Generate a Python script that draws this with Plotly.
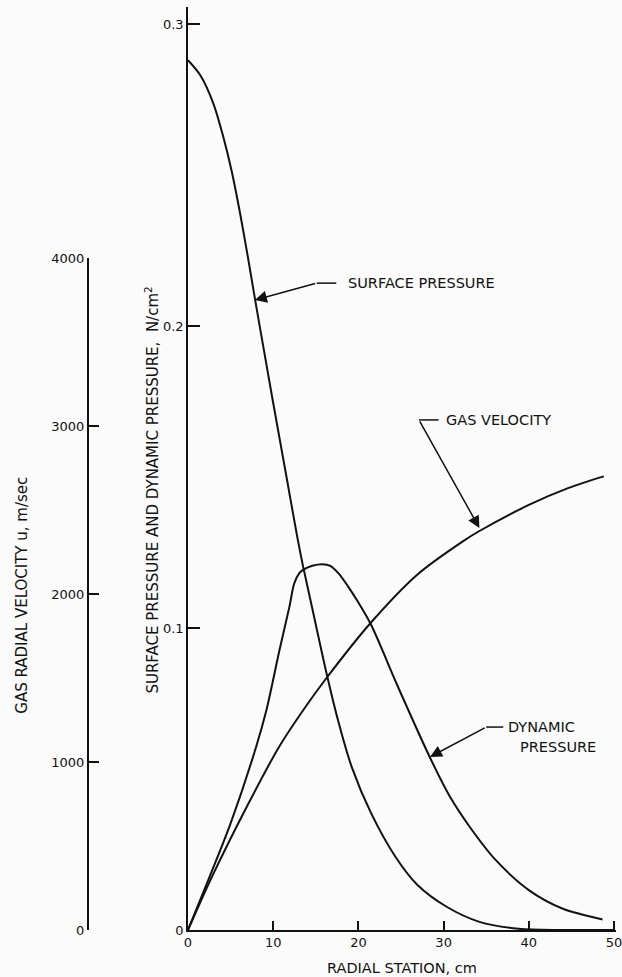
import plotly.graph_objects as go

# ---------------- data ----------------
radial_sp = [0, 1.5, 3.0, 4.2, 5.15, 6.1, 7.0, 7.8, 8.6, 10.0, 11.5, 12.8, 13.5, 14.6,
             16.3, 17.6, 19.2, 21.5, 24.4, 26.9, 30.35, 34.2, 38.8, 44.0, 50.0]
surface_pressure = [0.288, 0.2828, 0.2735, 0.2620, 0.2510, 0.2375, 0.2233, 0.2100, 0.1970,
                    0.1745, 0.1510, 0.1305, 0.1205, 0.1063, 0.0845, 0.0695, 0.0541, 0.0386,
                    0.0240, 0.0150, 0.0077, 0.0027, 0.0004, 0.0, 0.0]

radial_dp = [0, 1.9, 5.0, 8.0, 9.2, 10.74, 11.9, 12.47, 13.05, 13.6, 14.6, 15.75, 16.7,
             17.67, 18.8, 19.98, 21.5, 24.6, 28.45, 30.75, 33.05, 36.1, 40.0, 43.85,
             48.65]
dynamic_pressure = [0, 0.0132, 0.0353, 0.0607, 0.0728, 0.0927, 0.1070, 0.1148, 0.1181,
                    0.1194, 0.1206, 0.1211, 0.1206, 0.1181, 0.1137, 0.1085, 0.1010,
                    0.0808, 0.0568, 0.0441, 0.0342, 0.0232, 0.0132, 0.0072, 0.0035]

radial_gv = [0, 3.0, 6.9, 10.7, 13.8, 16.3, 21.4, 26.9, 32.3, 34.2, 40.0, 44.6, 48.8]
gas_velocity = [0, 337, 734, 1091, 1329, 1503, 1826, 2115, 2315, 2375, 2530, 2630, 2700]

x_ticks = [0, 10, 20, 30, 40, 50]
p_ticks = [0, 0.1, 0.2, 0.3]
p_tick_text = ["0", "0.1", "0.2", "0.3"]
u_ticks = [0, 1000, 2000, 3000, 4000]

FONT = "DejaVu Sans"
INK = "#111111"
BG = "#fbfbfb"

fig = go.Figure()
line_style = dict(color=INK, width=2, shape="spline", smoothing=0.9)
fig.add_trace(go.Scatter(x=radial_sp, y=surface_pressure, mode="lines", line=line_style,
                         xaxis="x", yaxis="y", showlegend=False, hoverinfo="skip"))
fig.add_trace(go.Scatter(x=radial_dp, y=dynamic_pressure, mode="lines", line=line_style,
                         xaxis="x", yaxis="y", showlegend=False, hoverinfo="skip"))
fig.add_trace(go.Scatter(x=radial_gv, y=gas_velocity, mode="lines", line=line_style,
                         xaxis="x", yaxis="y2", showlegend=False, hoverinfo="skip"))

tickfont = dict(family=FONT, size=13, color=INK)
axis_common = dict(showgrid=False, zeroline=False, showline=True, linecolor=INK,
                   linewidth=1.5, ticks="inside", tickcolor=INK, tickwidth=1.5,
                   tickfont=tickfont, fixedrange=True)

fig.update_layout(
    width=622, height=977,
    margin=dict(l=0, r=0, t=7, b=47),
    paper_bgcolor=BG, plot_bgcolor="rgba(0,0,0,0)",
    xaxis=dict(domain=[187/622, 1], range=[0, 50.23], tickvals=x_ticks, ticklen=9,
               anchor="y", ticklabeloverflow="allow", **axis_common),
    yaxis=dict(domain=[0, 1], range=[0, 923/3020], tickvals=p_ticks, ticktext=p_tick_text,
               ticklen=12, anchor="x", **axis_common),
    yaxis2=dict(domain=[0, 672/923], range=[0, 4000], tickvals=u_ticks, ticklen=11,
                anchor="free", position=85/622, **axis_common),
)

ann_font = dict(family=FONT, size=14.5, color=INK)

# leader lines: (tip, bend, end, text position)
leaders = [
    dict(tip=(7.85, 0.2086), bend=(15.1, 0.2142), end=(17.4, 0.2142),
         texts=[("SURFACE PRESSURE", 18.5, 0.2142)]),
    dict(tip=(34.2, 0.1331), bend=(27.1, 0.1689), end=(29.4, 0.1689),
         texts=[("GAS VELOCITY", 30.1, 0.1689)]),
    dict(tip=(28.4, 0.0573), bend=(35.0, 0.0672), end=(37.0, 0.0672),
         texts=[("DYNAMIC", 37.3, 0.0672), ("PRESSURE", 38.7, 0.0606)]),
]
for ld in leaders:
    fig.add_annotation(x=ld["tip"][0], y=ld["tip"][1], ax=ld["bend"][0], ay=ld["bend"][1],
                       xref="x", yref="y", axref="x", ayref="y", text="", showarrow=True,
                       arrowhead=2, arrowsize=1.6, arrowwidth=1.5, arrowcolor=INK, standoff=0)
    fig.add_shape(type="line", xref="x", yref="y", x0=ld["bend"][0], y0=ld["bend"][1],
                  x1=ld["end"][0], y1=ld["end"][1], line=dict(color=INK, width=1.5))
    for t, tx, ty in ld["texts"]:
        fig.add_annotation(x=tx, y=ty, xref="x", yref="y", text=t, showarrow=False,
                           xanchor="left", yanchor="middle", font=ann_font)

# axis titles
fig.add_annotation(x=404/622, y=(930-968)/923, xref="paper", yref="paper",
                   text="RADIAL STATION, cm", showarrow=False, xanchor="center",
                   yanchor="middle", font=ann_font)
fig.add_annotation(x=150/622, y=(930-490)/923, xref="paper", yref="paper",
                   text="SURFACE PRESSURE AND DYNAMIC PRESSURE,  N/cm<sup>2</sup>",
                   showarrow=False, textangle=-90, xanchor="center", yanchor="middle",
                   font=dict(family=FONT, size=15, color=INK))
fig.add_annotation(x=18/622, y=(930-595)/923, xref="paper", yref="paper",
                   text="GAS RADIAL VELOCITY u, m/sec",
                   showarrow=False, textangle=-90, xanchor="center", yanchor="middle",
                   font=dict(family=FONT, size=15, color=INK))

fig.write_html("out.html",
               config={"displayModeBar": False},
               post_script="document.body.style.margin='0';"
                           "document.body.style.background='%s';" % BG)
